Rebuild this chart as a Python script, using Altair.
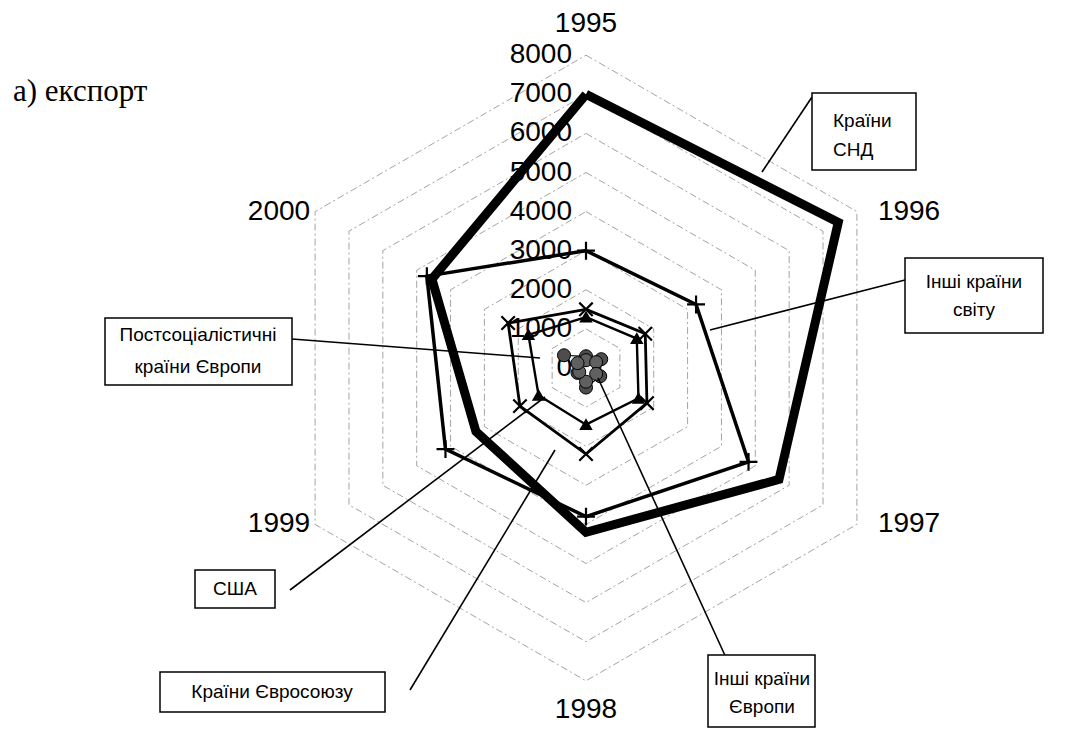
import altair as alt
import pandas as pd

# ---------------- data ----------------
years = ["1995", "1996", "1997", "1998", "1999", "2000"]
cis = [7000, 7450, 5700, 4200, 3250, 4550]
rest_world = [3000, 3250, 4800, 3800, 4150, 4700]
eu = [1500, 1750, 1800, 2200, 1950, 2300]
usa = [1300, 1500, 1550, 1450, 1400, 1700]
post_soc = [300, 450, 420, 500, 250, 650]
other_europe = [200, 300, 300, 350, 200, 250]
series_names = ["Країни СНД", "Інші країни світу", "Країни Євросоюзу", "США",
                "Постсоціалістичні країни Європи", "Інші країни Європи"]
grid_levels = [1000, 2000, 3000, 4000, 5000, 6000, 7000, 8000]
tick_values = [0, 1000, 2000, 3000, 4000, 5000, 6000, 7000, 8000]
tick_labels = ["0", "1000", "2000", "3000", "4000", "5000", "6000", "7000", "8000"]

# ---------------- geometry (scale settings) ----------------
W, H = 1049, 723
CX, CY = 578, 360
PPU = 0.0391
xdom = [-CX / PPU, (W - CX) / PPU]
ydom = [-(H - CY) / PPU, CY / PPU]
xs = alt.Scale(domain=xdom, nice=False, zero=False)
ys = alt.Scale(domain=ydom, nice=False, zero=False)
X = alt.X("x:Q", scale=xs, axis=None)
Y = alt.Y("y:Q", scale=ys, axis=None)


def polar(chart):
    return chart.transform_calculate(
        x="datum.value * sin(datum.k * PI / 3)",
        y="datum.value * cos(datum.k * PI / 3)",
    )


def ring(name, values):
    rows = []
    for i in range(7):
        k = i % 6
        rows.append({"series": name, "idx": i, "k": k, "year": years[k], "value": values[k]})
    return pd.DataFrame(rows)


# grid
grid_rows = []
for lv in grid_levels:
    for i in range(7):
        grid_rows.append({"level": lv, "idx": i, "k": i % 6, "value": lv})
grid_df = pd.DataFrame(grid_rows)
grid = polar(alt.Chart(grid_df)).mark_line(
    stroke="#8c8c8c", strokeWidth=0.8, strokeDash=[7, 3, 2, 3]
).encode(x=X, y=Y, detail="level:N", order="idx:Q")

# tick labels on 1995 axis
tick_df = pd.DataFrame({"value": tick_values, "label": tick_labels, "k": [0] * len(tick_values)})
ticks = polar(alt.Chart(tick_df)).mark_text(
    align="right", baseline="middle", dx=-14, fontSize=28, font="Liberation Sans", color="black"
).encode(x=X, y=Y, text="label:N")

# year labels
ydf = pd.DataFrame({"label": years, "k": list(range(6))})
ydf["value"] = [8800, 8000, 8000, 8750, 8000, 8000]
ydf["pos"] = ["c", "r", "r", "c", "l", "l"]
ylab_c = polar(alt.Chart(ydf).transform_filter("datum.pos == 'c'")).mark_text(
    align="center", baseline="middle", fontSize=28, font="Liberation Sans"
).encode(x=X, y=Y, text="label:N")
ylab_r = polar(alt.Chart(ydf).transform_filter("datum.pos == 'r'")).mark_text(
    align="left", baseline="middle", dx=21, fontSize=28, font="Liberation Sans"
).encode(x=X, y=Y, text="label:N")
ylab_l = polar(alt.Chart(ydf).transform_filter("datum.pos == 'l'")).mark_text(
    align="right", baseline="middle", dx=-5, fontSize=28, font="Liberation Sans"
).encode(x=X, y=Y, text="label:N")


def series_line(name, values, width, color="black"):
    return polar(alt.Chart(ring(name, values))).mark_line(
        stroke=color, strokeWidth=width, strokeJoin="miter", strokeMiterLimit=4
    ).encode(x=X, y=Y, order="idx:Q")


def series_points(name, values, shape, size, filled, color="black", stroke_w=2, fill=None):
    df = ring(name, values)
    df = df[df["idx"] < 6]
    kw = dict(shape=shape, size=size, filled=filled, strokeWidth=stroke_w, opacity=1)
    if filled:
        kw["fill"] = fill if fill else color
        kw["stroke"] = "black"
    else:
        kw["stroke"] = color
    return polar(alt.Chart(df)).mark_point(**kw).encode(x=X, y=Y)


PLUS = "M-1,0L1,0M0,-1L0,1"
XSHAPE = "M-1,-1L1,1M-1,1L1,-1"

lines = [
    series_line(series_names[0], cis, 9),
    series_line(series_names[1], rest_world, 3.5),
    series_line(series_names[2], eu, 2.8),
    series_line(series_names[3], usa, 2.4),
    series_line(series_names[4], post_soc, 1.2),
    series_line(series_names[5], other_europe, 1.2),
]
points = [
    series_points(series_names[1], rest_world, PLUS, 320, False, stroke_w=2.2),
    series_points(series_names[2], eu, XSHAPE, 180, False, stroke_w=2.2),
    series_points(series_names[3], usa, "triangle-up", 100, True),
    series_points(series_names[4], post_soc, "circle", 170, True, fill="#4d4d4d", stroke_w=1),
    series_points(series_names[5], other_europe, "circle", 170, True, fill="#606060", stroke_w=1),
]

# ---------------- annotations (pixel positions of the callouts) ----------------
OFF = 8
anno = []


def box(x1, y1, x2, y2):
    return alt.Chart(pd.DataFrame({"a": [0]})).mark_rect(
        fill="white", stroke="black", strokeWidth=1.5
    ).encode(x=alt.value(x1 - OFF), x2=alt.value(x2 - OFF), y=alt.value(y1 - OFF), y2=alt.value(y2 - OFF))


def txt(s, x, y, align="center", size=19, font="Liberation Sans"):
    return alt.Chart(pd.DataFrame({"t": [s]})).mark_text(
        align=align, baseline="middle", fontSize=size, font=font, color="black"
    ).encode(x=alt.value(x - OFF), y=alt.value(y - OFF), text="t:N")


def pointer(x1, y1, x2, y2):
    return alt.Chart(pd.DataFrame({"a": [0]})).mark_rule(
        stroke="black", strokeWidth=1.6
    ).encode(x=alt.value(x1 - OFF), y=alt.value(y1 - OFF), x2=alt.value(x2 - OFF), y2=alt.value(y2 - OFF))


anno += [
    pointer(762, 172, 812, 97),
    box(812, 93, 916, 170),
    txt("Країни", 833, 121, align="left"),
    txt("СНД", 833, 150, align="left"),

    pointer(710, 330, 905, 280),
    box(905, 258, 1043, 333),
    txt("Інші країни", 974, 282),
    txt("світу", 974, 310),

    pointer(292, 339, 540, 358),
    box(105, 318, 292, 385),
    txt("Постсоціалістичні", 198, 335),
    txt("країни Європи", 198, 367),

    pointer(290, 590, 545, 397),
    box(195, 570, 275, 608),
    txt("США", 235, 589),

    pointer(410, 690, 555, 450),
    box(160, 672, 385, 712),
    txt("Країни Євросоюзу", 272, 692),

    pointer(728, 662, 598, 378),
    box(708, 655, 815, 727),
    txt("Інші країни", 762, 679),
    txt("Європи", 762, 707),

    txt("а) експорт", 13, 92, align="left", size=31, font="Liberation Serif"),
]

chart = alt.layer(
    grid, ticks, ylab_c, ylab_r, ylab_l, *lines, *points, *anno
).properties(
    width=W, height=H, padding=0, autosize=alt.AutoSizeParams(type="none")
).configure(background="white", view=alt.ViewConfig(stroke=None))

chart.save("out.html", embed_options={"renderer": "svg", "actions": False})
